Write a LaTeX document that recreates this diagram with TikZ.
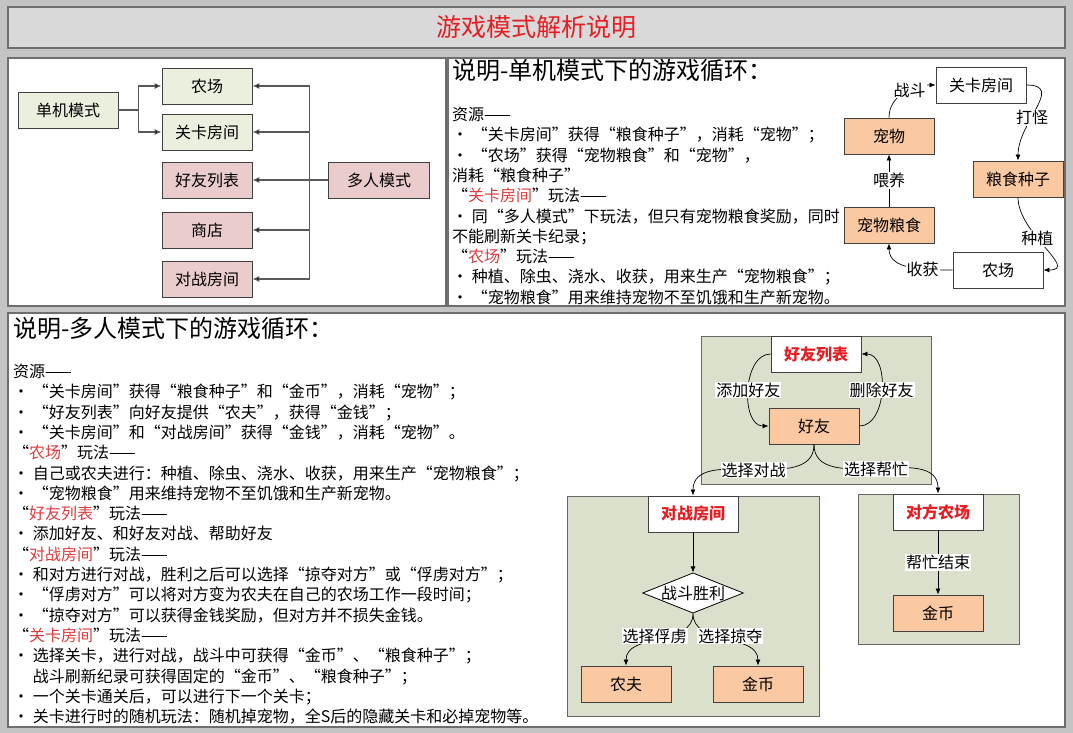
\documentclass[tikz,border=0pt]{standalone}
\usepackage{fontspec}
\setmainfont{Noto Sans CJK SC}
\usetikzlibrary{arrows.meta,positioning,shapes.geometric}
\definecolor{FrameGray}{RGB}{196,196,196}
\definecolor{TitleGray}{RGB}{217,217,217}
\definecolor{EdgeGray}{RGB}{110,110,110}
\definecolor{SoftGreen}{RGB}{235,240,222}
\definecolor{SoftPink}{RGB}{234,204,205}
\definecolor{SoftOrange}{RGB}{250,201,162}
\definecolor{GroupGreen}{RGB}{218,224,204}
\definecolor{TitleRed}{RGB}{230,30,35}
\definecolor{NoteRed}{RGB}{220,60,60}
\newcommand{\redword}[1]{\textcolor{NoteRed}{#1}}

\begin{document}
\begin{tikzpicture}[x=1pt,y=-1pt,>={Latex[length=6pt,width=5pt]},
  panel/.style={draw=EdgeGray,line width=1.2pt,fill=white},
  grp/.style={draw=black!60,line width=1pt,fill=GroupGreen},
  box/.style={draw=black!75,line width=0.9pt,minimum width=90pt,minimum height=36pt,inner sep=0pt,font=\fontsize{16}{16}\selectfont},
  redbox/.style={box,fill=white,text=TitleRed,font=\fontsize{16}{16}\selectfont\bfseries},
  lbl/.style={fill=white,inner sep=1pt,font=\fontsize{16}{16}\selectfont},
  link/.style={draw=black!65,line width=1.1pt,-{Latex[length=7pt,width=6pt,fill=black]}},
  flow/.style={draw=black,line width=0.7pt,->},
  note/.style={anchor=north west,align=left,inner sep=0pt,font=\fontsize{16}{20.3}\selectfont},
  head/.style={anchor=west,inner sep=0pt,font=\fontsize{24}{24}\selectfont}]

\useasboundingbox (0,0) rectangle (1073,733);
\fill[FrameGray] (0,0) rectangle (1073,733);
\draw[EdgeGray,line width=1.2pt,fill=TitleGray] (8,7) rectangle (1065,48);
\node[text=TitleRed,font=\fontsize{25}{25}\selectfont] (title) at (536,27) {游戏模式解析说明};
\draw[panel] (8,58) rectangle (446,306);
\draw[panel] (448,58) rectangle (1065,306);
\draw[panel] (8,313) rectangle (1065,727);

% 左上: 两种模式
\node[box,fill=SoftGreen,minimum width=100pt] (single) at (68,110) {单机模式};
\node[box,fill=SoftGreen] (farmA) at (207,86) {农场};
\node[box,fill=SoftGreen] (levelA) at (207,132) {关卡房间};
\node[box,fill=SoftPink] (friendA) at (207,180) {好友列表};
\node[box,fill=SoftPink] (shopA) at (207,230) {商店};
\node[box,fill=SoftPink] (battleA) at (207,279) {对战房间};
\node[box,fill=SoftPink,minimum width=101pt] (multi) at (379,180) {多人模式};
\foreach \n in {farmA,levelA}
  \draw[link] (single.east) -- ++(20,0) |- (\n.west);
\foreach \n in {farmA,levelA,friendA,shopA,battleA}
  \draw[link] (multi.west) -- ++(-19,0) |- (\n.east);

% 右上: 单机说明
\node[head] (headA) at (452,70) {说明-单机模式下的游戏循环：};
\node[note] (noteA) at (452,107) {资源——\\
• “关卡房间”获得“粮食种子”，消耗“宠物”；\\
• “农场”获得“宠物粮食”和“宠物”，\\
消耗“粮食种子”\\
“\redword{关卡房间}”玩法——\\
• 同“多人模式”下玩法，但只有宠物粮食奖励，同时\\
不能刷新关卡纪录；\\
“\redword{农场}”玩法——\\
• 种植、除虫、浇水、收获，用来生产“宠物粮食”；\\
• “宠物粮食”用来维持宠物不至饥饿和生产新宠物。};

% 右上: 单机循环
\node[box,fill=white] (levelB) at (981,85) {关卡房间};
\node[box,fill=SoftOrange] (pet) at (889,136) {宠物};
\node[box,fill=SoftOrange] (seed) at (1018,179) {粮食种子};
\node[box,fill=SoftOrange] (food) at (889,225) {宠物粮食};
\node[box,fill=white] (farmB) at (998,270) {农场};
\draw[flow] (pet.north) to[out=90,in=180] node[lbl,pos=0.6] {战斗} (levelB.west);
\draw[flow] (levelB.east) to[out=0,in=90,looseness=1.3] node[lbl,pos=0.6] {打怪} (seed.north);
\draw[flow] (seed.south) to[out=270,in=0,looseness=1.2] node[lbl,pos=0.4] {种植} (farmB.east);
\draw[flow] (farmB.west) to[out=180,in=270] node[lbl,pos=0.35] {收获} (food.south);
\draw[flow] (food.north) -- node[lbl] {喂养} (pet.south);

% 下: 多人说明
\node[head] (headB) at (13,328) {说明-多人模式下的游戏循环：};
\node[note] (noteB) at (13,364) {资源——\\
• “关卡房间”获得“粮食种子”和“金币”，消耗“宠物”；\\
• “好友列表”向好友提供“农夫”，获得“金钱”；\\
• “关卡房间”和“对战房间”获得“金钱”，消耗“宠物”。\\
“\redword{农场}”玩法——\\
• 自己或农夫进行：种植、除虫、浇水、收获，用来生产“宠物粮食”；\\
• “宠物粮食”用来维持宠物不至饥饿和生产新宠物。\\
“\redword{好友列表}”玩法——\\
• 添加好友、和好友对战、帮助好友\\
“\redword{对战房间}”玩法——\\
• 和对方进行对战，胜利之后可以选择“掠夺对方”或“俘虏对方”；\\
• “俘虏对方”可以将对方变为农夫在自己的农场工作一段时间；\\
• “掠夺对方”可以获得金钱奖励，但对方并不损失金钱。\\
“\redword{关卡房间}”玩法——\\
• 选择关卡，进行对战，战斗中可获得“金币”、“粮食种子”；\\
\hphantom{• }战斗刷新纪录可获得固定的“金币”、“粮食种子”；\\
• 一个关卡通关后，可以进行下一个关卡；\\
• 关卡进行时的随机玩法：随机掉宠物，全S后的隐藏关卡和必掉宠物等。};

% 下: 多人循环
\draw[grp] (701,336) rectangle (931,484);
\draw[grp] (567,496) rectangle (819,716);
\draw[grp] (858,494) rectangle (1019,644);
\node[redbox] (friendC) at (816,354) {好友列表};
\node[box,fill=SoftOrange] (buddy) at (814,426) {好友};
\node[redbox] (battleC) at (693,514) {对战房间};
\node[draw=black,line width=0.8pt,fill=white,diamond,aspect=2.5,inner sep=0pt,font=\fontsize{16}{16}\selectfont] (win) at (693,593) {战斗胜利};
\node[box,fill=SoftOrange] (farmer) at (626,684) {农夫};
\node[box,fill=SoftOrange] (coinA) at (758,684) {金币};
\node[redbox] (rival) at (938,512) {对方农场};
\node[box,fill=SoftOrange] (coinB) at (938,613) {金币};
\draw[flow] (friendC.west) to[out=180,in=180] node[lbl] {添加好友} (buddy.west);
\draw[flow] (buddy.east) to[out=0,in=0] node[lbl] {删除好友} (friendC.east);
\draw[flow] (buddy.south) to[out=270,in=90] node[lbl] {选择对战} (battleC.north);
\draw[flow] (buddy.south) to[out=270,in=90] node[lbl] {选择帮忙} (rival.north);
\draw[flow] (battleC.south) -- (win.north);
\draw[flow] (win.south) to[out=270,in=90] node[lbl,pos=0.55,yshift=5pt] {选择俘虏} (farmer.north);
\draw[flow] (win.south) to[out=270,in=90] node[lbl,pos=0.55,yshift=5pt] {选择掠夺} (coinA.north);
\draw[flow] (rival.south) -- node[lbl] {帮忙结束} (coinB.north);
\end{tikzpicture}
\end{document}
